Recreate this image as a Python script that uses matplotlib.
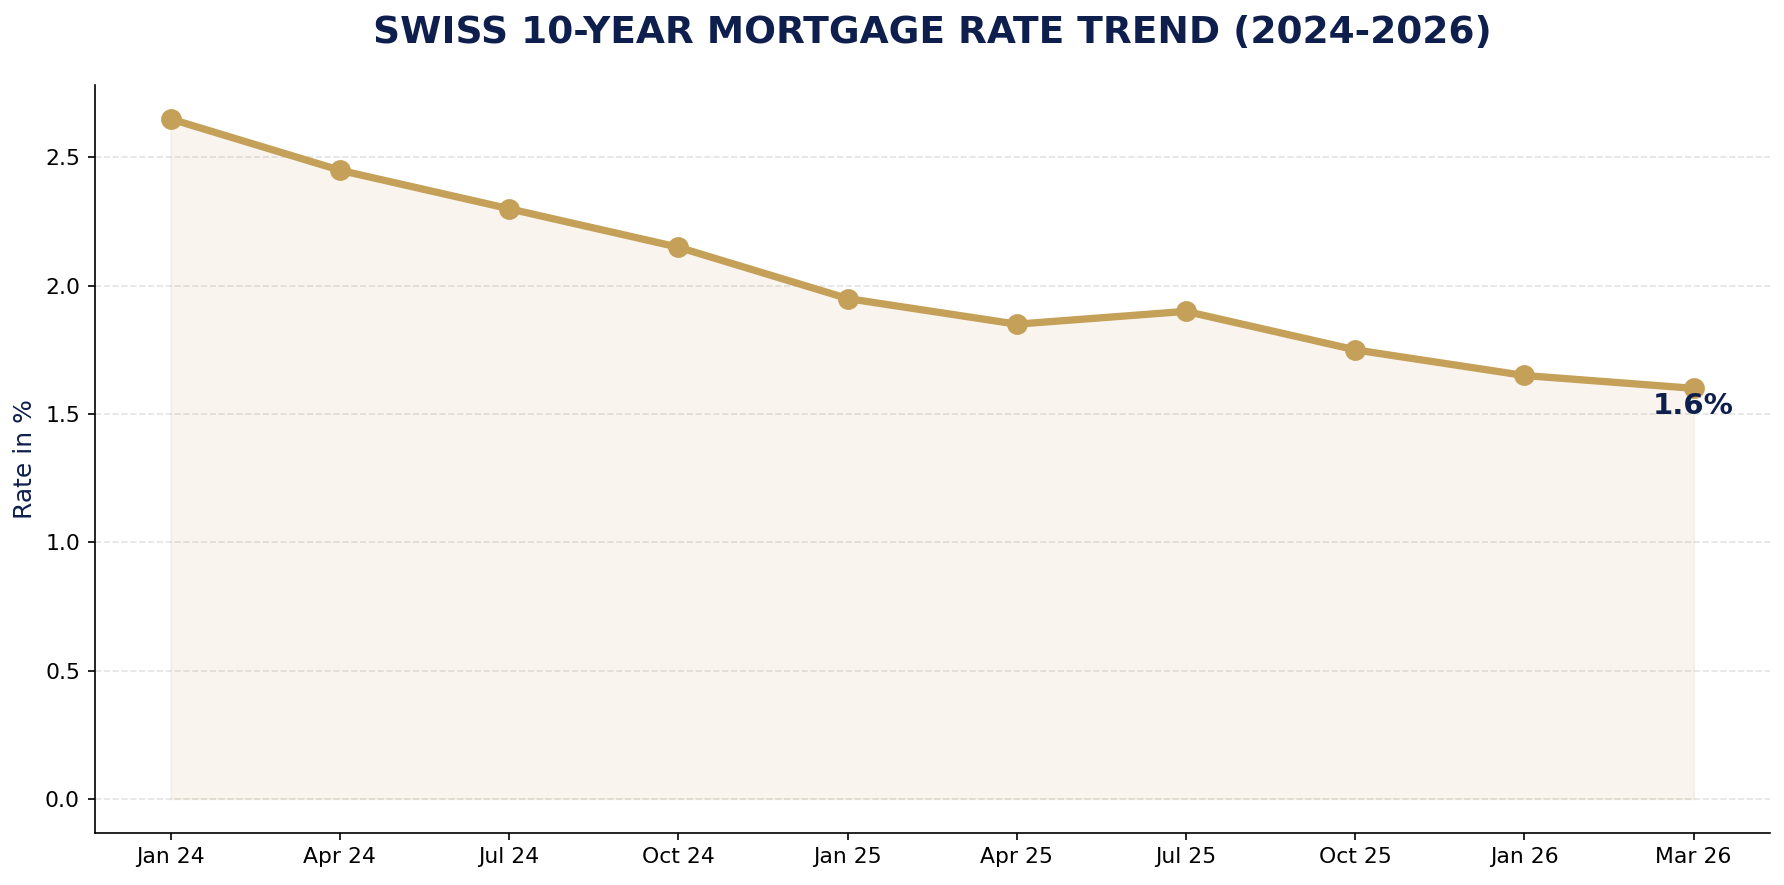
import matplotlib.pyplot as plt

# data
labels = ["Jan 24", "Apr 24", "Jul 24", "Oct 24", "Jan 25",
          "Apr 25", "Jul 25", "Oct 25", "Jan 26", "Mar 26"]
rates = [2.65, 2.45, 2.30, 2.15, 1.95, 1.85, 1.90, 1.75, 1.65, 1.60]

gold = "#C5A059"
navy = "#0E1F4E"

fig, ax = plt.subplots(figsize=(1784 / 150, 885 / 150), dpi=150)
x = list(range(len(labels)))

ax.fill_between(x, rates, color=gold, alpha=0.1)
ax.plot(x, rates, color=gold, linewidth=3.5, marker="o", markersize=9)

ax.text(x[-1], rates[-1] - 0.015, f"{rates[-1]:.1f}%", color=navy,
        fontsize=14, fontweight="bold", ha="center", va="top")

ax.set_xticks(x)
ax.set_xticklabels(labels, fontsize=10.5)
ax.tick_params(axis="y", labelsize=10.5)
ax.set_ylabel("Rate in %", fontsize=12, color=navy)
ax.set_title("SWISS 10-YEAR MORTGAGE RATE TREND (2024-2026)", fontsize=18,
             fontweight="bold", color=navy, pad=20)

ax.grid(axis="y", linestyle="--", color="#DDDDDD", alpha=0.8)
ax.set_axisbelow(True)
ax.spines["top"].set_visible(False)
ax.spines["right"].set_visible(False)

fig.subplots_adjust(left=0.053, right=0.992, top=0.904, bottom=0.059)
plt.savefig("out.png", dpi=150)
